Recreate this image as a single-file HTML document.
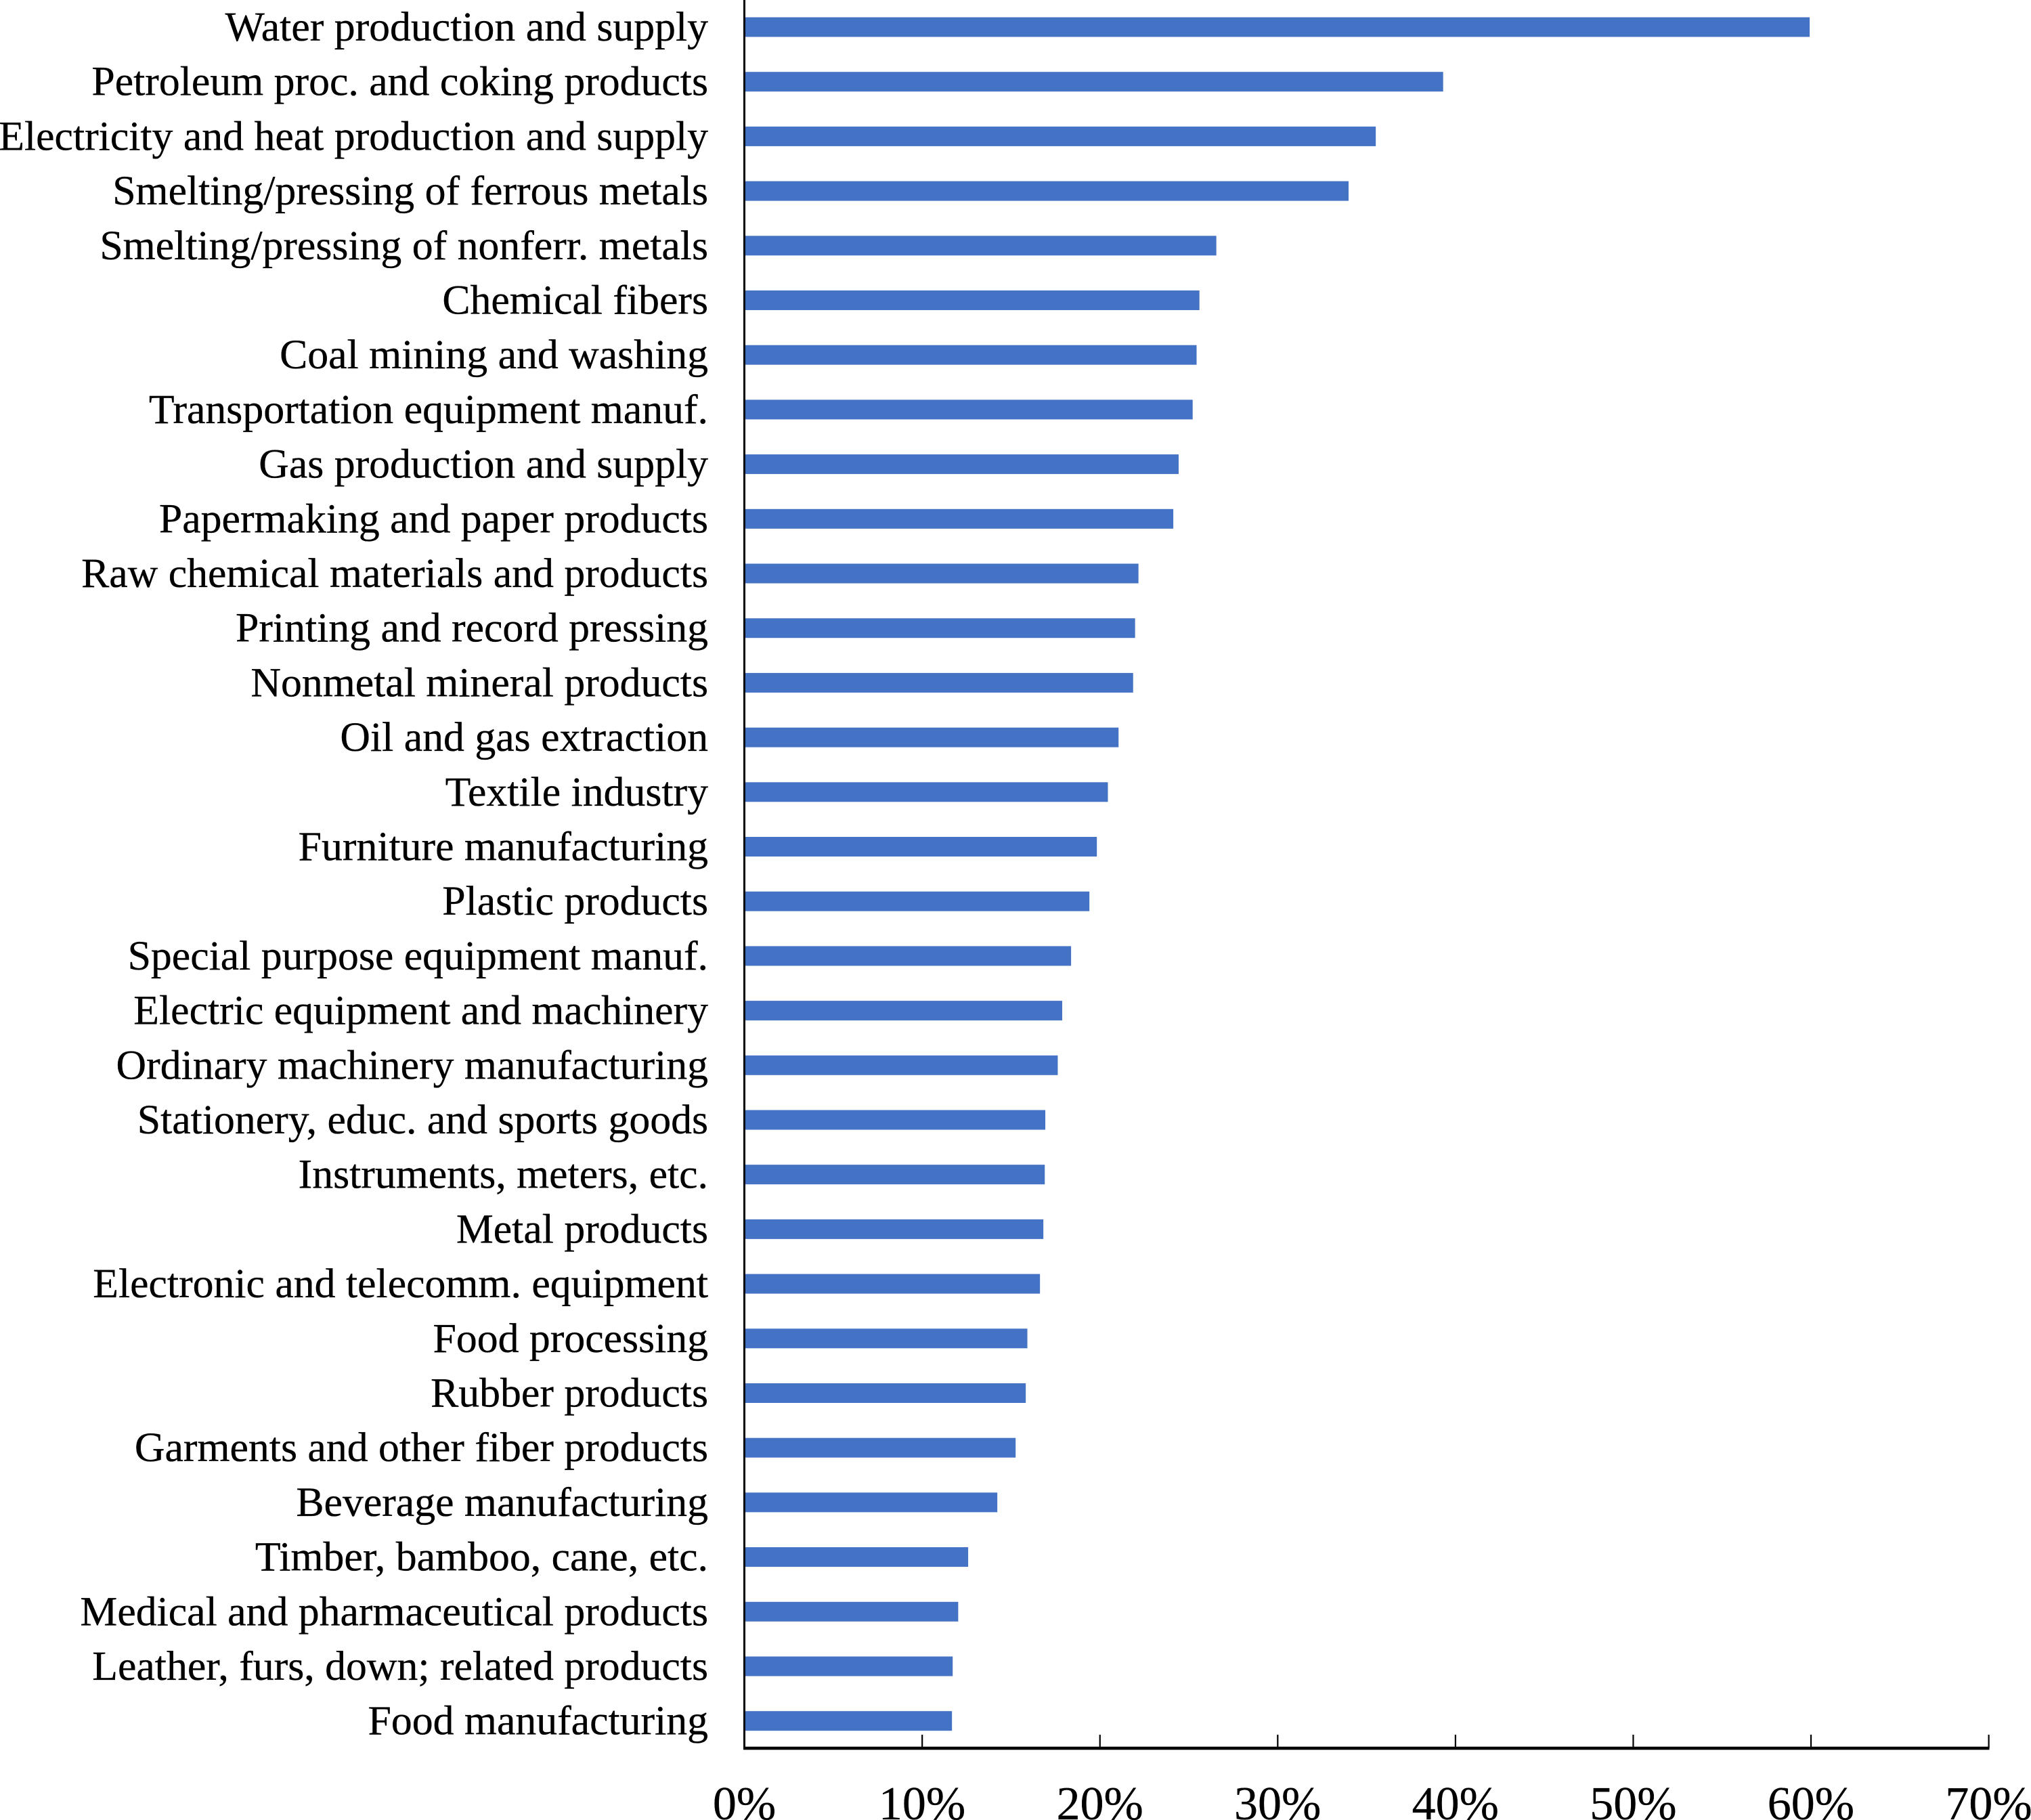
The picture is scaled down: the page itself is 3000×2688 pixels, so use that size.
<!DOCTYPE html>
<html lang="en">
<head>
<meta charset="utf-8">
<title>Industry share bar chart</title>
<style>
  html, body { margin: 0; padding: 0; background: #fff; }
  #chart { display: block; width: 3000px; height: 2688px; }
  text { font-family: "Liberation Serif", "Times New Roman", serif; fill: #000; stroke: #000; stroke-width: 0.35px; }
  .cat { font-size: 61.75px; text-anchor: end; }
  .tick { font-size: 70px; text-anchor: middle; }
</style>
</head>
<body>
<svg id="chart" xmlns="http://www.w3.org/2000/svg" width="3000" height="2688" viewBox="0 0 3000 2688">
  <rect x="0" y="0" width="3000" height="2688" fill="#ffffff"/>
  <g id="bars"></g>
  <g id="cats"></g>
  <g id="axes"></g>
</svg>
<script>
const categories = [
  "Water production and supply",
  "Petroleum proc. and coking products",
  "Electricity and heat production and supply",
  "Smelting/pressing of ferrous metals",
  "Smelting/pressing of nonferr. metals",
  "Chemical fibers",
  "Coal mining and washing",
  "Transportation equipment manuf.",
  "Gas production and supply",
  "Papermaking and paper products",
  "Raw chemical materials and products",
  "Printing and record pressing",
  "Nonmetal mineral products",
  "Oil and gas extraction",
  "Textile industry",
  "Furniture manufacturing",
  "Plastic products",
  "Special purpose equipment manuf.",
  "Electric equipment and machinery",
  "Ordinary machinery manufacturing",
  "Stationery, educ. and sports goods",
  "Instruments, meters, etc.",
  "Metal products",
  "Electronic and telecomm. equipment",
  "Food processing",
  "Rubber products",
  "Garments and other fiber products",
  "Beverage manufacturing",
  "Timber, bamboo, cane, etc.",
  "Medical and pharmaceutical products",
  "Leather, furs, down; related products",
  "Food manufacturing"
];
const shareValues = [
  59.93, 39.31, 35.52, 33.99, 26.55, 25.6, 25.44, 25.22,
  24.43, 24.13, 22.17, 21.98, 21.87, 21.05, 20.45, 19.83,
  19.41, 18.38, 17.88, 17.63, 16.93, 16.9, 16.82, 16.63,
  15.92, 15.83, 15.26, 14.23, 12.59, 12.03, 11.72, 11.68
];
const tickValues = [0, 10, 20, 30, 40, 50, 60, 70];
const tickLabels = ["0%", "10%", "20%", "30%", "40%", "50%", "60%", "70%"];

const SVG_NS = "http://www.w3.org/2000/svg";
const plotLeft = 1099.5;
const plotRight = 2937.5;
const axisMax = 70;
const firstRowCenter = 40;
const rowStep = 80.7;
const barHeight = 29;
const axisY = 2582;

function xScale(v) {
  return plotLeft + (v / axisMax) * (plotRight - plotLeft);
}
function yScale(i) {
  return firstRowCenter + i * rowStep;
}
function make(tag, attrs, parent) {
  const el = document.createElementNS(SVG_NS, tag);
  for (const k in attrs) el.setAttribute(k, attrs[k]);
  parent.appendChild(el);
  return el;
}

const barsG = document.getElementById("bars");
const catsG = document.getElementById("cats");
const axesG = document.getElementById("axes");

categories.forEach(function (name, i) {
  const bar = make("rect", {
    x: xScale(0),
    y: yScale(i) - barHeight / 2,
    width: xScale(shareValues[i]) - xScale(0),
    height: barHeight,
    fill: "#4472c4"
  }, barsG);
  
  

  const label = make("text", {
    class: "cat",
    x: 1046,
    y: yScale(i) + 20
  }, catsG);
  label.textContent = name;
  
  
});

const yAxis = make("rect", { x: 1098, y: 0, width: 3, height: axisY + 2, fill: "#000" }, axesG);



const xAxis = make("rect", { x: 1098, y: axisY - 2.3, width: xScale(axisMax) - 1098 + 1, height: 4.6, fill: "#000" }, axesG);



tickValues.forEach(function (v, i) {
  if (v !== 0) {
    const tick = make("rect", { x: xScale(v) - 1, y: 2562, width: 2.2, height: axisY - 2562, fill: "#000" }, axesG);
    
    
  }
  const tl = make("text", { class: "tick", x: xScale(v), y: 2687 }, axesG);
  tl.textContent = tickLabels[i];
  
  
});
</script>
</body>
</html>
